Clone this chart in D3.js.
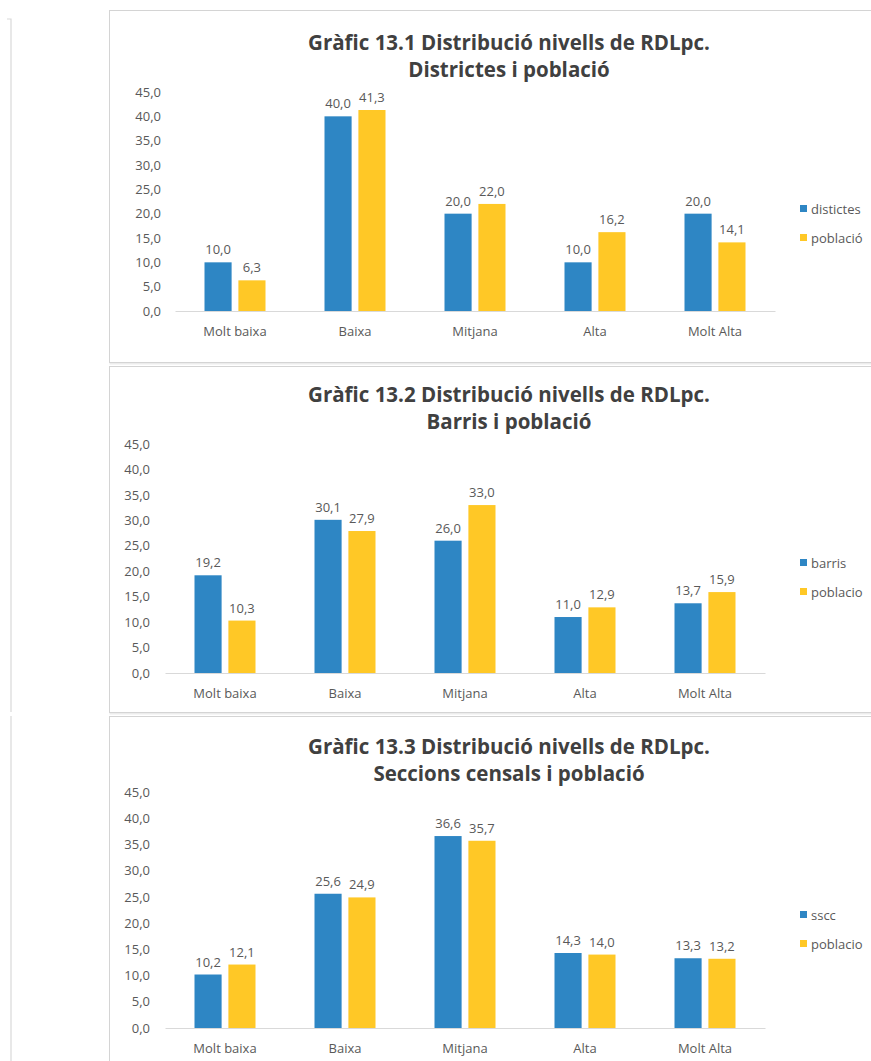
<!DOCTYPE html>
<html>
<head>
<meta charset="utf-8">
<script src="https://cdn.jsdelivr.net/npm/d3@7"></script>
<style>
  body { margin: 0; background: #fff; }
  svg text { font-family: "Open Sans", "Noto Sans", sans-serif; }
  .title { font-weight: bold; font-size: 20.5px; fill: #404040; }
  .tickLabel, .catLabel, .valLabel, .legendText { font-size: 13px; fill: #595959; }
</style>
</head>
<body>
<div id="chart"></div>
<script>
// Data
var categories = ["Molt baixa", "Baixa", "Mitjana", "Alta", "Molt Alta"];
var yTicks = [0, 5, 10, 15, 20, 25, 30, 35, 40, 45];

var districtes = [10.0, 40.0, 20.0, 10.0, 20.0];
var poblacioDistrictes = [6.3, 41.3, 22.0, 16.2, 14.1];

var barris = [19.2, 30.1, 26.0, 11.0, 13.7];
var poblacioBarris = [10.3, 27.9, 33.0, 12.9, 15.9];

var sscc = [10.2, 25.6, 36.6, 14.3, 13.3];
var poblacioSscc = [12.1, 24.9, 35.7, 14.0, 13.2];

var titles = [
  ["Gràfic 13.1 Distribució nivells de RDLpc.", "Districtes i població"],
  ["Gràfic 13.2 Distribució nivells de RDLpc.", "Barris i població"],
  ["Gràfic 13.3 Distribució nivells de RDLpc.", "Seccions censals i població"]
];
var seriesNames = [
  ["distictes", "població"],
  ["barris", "poblacio"],
  ["sscc", "poblacio"]
];
var seriesValues = [
  [districtes, poblacioDistrictes],
  [barris, poblacioBarris],
  [sscc, poblacioSscc]
];

var colors = ["#2E86C4", "#FFC826"];

// Layout of each panel (pixel geometry only)
var panels = [
  {top: 10, bottom: 362, x0: 175, x1: 775, y0: 311, y45: 92, titleY: 43, legendY: 209, tickX: 161},
  {top: 366, bottom: 712, x0: 165, x1: 765, y0: 673, y45: 444, titleY: 395, legendY: 563, tickX: 150},
  {top: 716, bottom: 1075, x0: 165, x1: 765, y0: 1028, y45: 792, titleY: 747, legendY: 915, tickX: 150}
];

var svg = d3.select("#chart")
  .append("svg")
  .attr("width", 871)
  .attr("height", 1061);

var fmt = function(v) { return d3.format(".1f")(v).replace(".", ","); };

// Stray border fragments at the left edge
svg.append("path")
  .attr("d", "M7,19H11V712M11,716V1061")
  .attr("fill", "none")
  .attr("stroke", "#d9d9d9")
  .attr("stroke-width", 1.2);

panels.forEach(function(p, k) {
  var g = svg.append("g");

  // Panel frame with a soft shadow
  g.append("rect")
    .attr("x", 110.5).attr("y", p.top + 1.5)
    .attr("width", 800).attr("height", p.bottom - p.top)
    .attr("fill", "none").attr("stroke", "#ececec").attr("stroke-width", 2);
  g.append("rect")
    .attr("x", 109.5).attr("y", p.top + 0.5)
    .attr("width", 800).attr("height", p.bottom - p.top)
    .attr("fill", "#fff").attr("stroke", "#d4d4d4").attr("stroke-width", 1);

  var xScale = d3.scaleBand()
    .domain(categories)
    .range([p.x0, p.x1]);

  var xInner = d3.scaleBand()
    .domain([0, 1])
    .range([-30.5, 30.5])
    .paddingInner(0.2);

  var yScale = d3.scaleLinear()
    .domain([0, 45])
    .range([p.y0, p.y45]);

  // Titles
  g.selectAll(".title")
    .data(titles[k])
    .enter()
    .append("text")
    .attr("class", "title")
    .attr("x", 509)
    .attr("y", function(d, i) { return p.titleY + 7 + i * 27; })
    .attr("text-anchor", "middle")
    .text(function(d) { return d; });

  // Y tick labels
  var yAxis = d3.axisLeft(yScale).tickValues(yTicks).tickFormat(fmt).tickSize(0).tickPadding(0);
  var ya = g.append("g")
    .attr("transform", "translate(" + p.tickX + ",0)")
    .call(yAxis);
  ya.select(".domain").remove();
  ya.selectAll("text").attr("class", "tickLabel").attr("fill", null).attr("font-size", null).attr("font-family", null);

  // X axis
  var xa = g.append("g")
    .attr("transform", "translate(0," + p.y0 + ")")
    .call(d3.axisBottom(xScale).tickSize(0).tickPadding(0));
  xa.select(".domain").attr("stroke", "#d9d9d9");
  xa.selectAll("text")
    .attr("class", "catLabel")
    .attr("fill", null).attr("font-size", null).attr("font-family", null)
    .attr("dy", null)
    .attr("y", 25);

  // Bars
  seriesValues[k].forEach(function(vals, s) {
    var grp = g.append("g");
    grp.selectAll("rect")
      .data(vals)
      .enter()
      .append("rect")
      .attr("x", function(d, i) { return xScale(categories[i]) + xScale.bandwidth() / 2 + xInner(s); })
      .attr("y", function(d) { return yScale(d); })
      .attr("width", xInner.bandwidth())
      .attr("height", function(d) { return p.y0 - yScale(d); })
      .attr("fill", colors[s]);

    grp.selectAll("text")
      .data(vals)
      .enter()
      .append("text")
      .attr("class", "valLabel")
      .attr("x", function(d, i) { return xScale(categories[i]) + xScale.bandwidth() / 2 + xInner(s) + xInner.bandwidth() / 2; })
      .attr("y", function(d) { return yScale(d) - 8; })
      .attr("text-anchor", "middle")
      .text(fmt);
  });

  // Legend
  seriesNames[k].forEach(function(name, s) {
    g.append("rect")
      .attr("x", 800)
      .attr("y", p.legendY + s * 29 - 4)
      .attr("width", 7).attr("height", 7)
      .attr("fill", colors[s]);
    g.append("text")
      .attr("class", "legendText")
      .attr("x", 811)
      .attr("y", p.legendY + s * 29 + 4.5)
      .text(name);
  });
});
</script>
</body>
</html>
